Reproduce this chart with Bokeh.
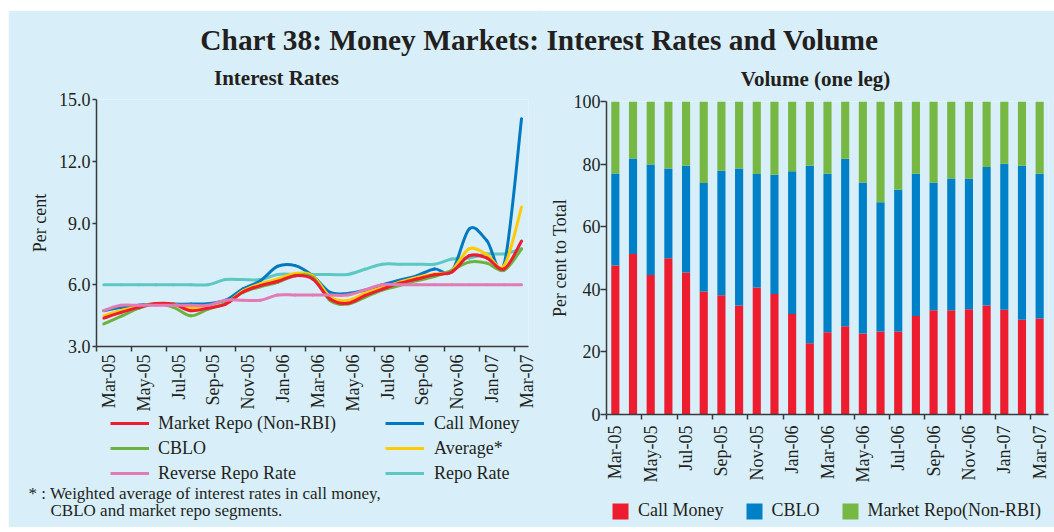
import math
from bokeh.plotting import figure
from bokeh.models import (ColumnDataSource, FixedTicker, Legend, LegendItem, Label,
                          Range1d, PrintfTickFormatter)
from bokeh.embed import file_html
from bokeh.resources import INLINE

# ---------------- data ----------------
months = ["Mar-05", "Apr-05", "May-05", "Jun-05", "Jul-05", "Aug-05", "Sep-05", "Oct-05",
          "Nov-05", "Dec-05", "Jan-06", "Feb-06", "Mar-06", "Apr-06", "May-06", "Jun-06",
          "Jul-06", "Aug-06", "Sep-06", "Oct-06", "Nov-06", "Dec-06", "Jan-07", "Feb-07",
          "Mar-07"]

market_repo = [4.38, 4.66, 4.90, 5.09, 5.06, 4.74, 4.87, 5.06, 5.65, 5.96, 6.17, 6.44, 6.28,
               5.31, 5.10, 5.47, 5.79, 6.07, 6.28, 6.49, 6.62, 7.41, 7.30, 6.77, 8.12]
call_money = [4.74, 4.90, 5.00, 5.08, 5.06, 5.06, 5.08, 5.25, 5.80, 6.20, 6.90, 6.93, 6.44,
              5.63, 5.58, 5.74, 6.00, 6.22, 6.44, 6.77, 6.65, 8.72, 8.15, 7.00, 14.07]
cblo = [4.10, 4.47, 4.85, 5.06, 4.90, 4.49, 4.82, 5.10, 5.63, 5.90, 6.12, 6.44, 6.36,
        5.23, 5.06, 5.39, 5.74, 5.96, 6.20, 6.40, 6.70, 7.10, 7.05, 6.70, 7.74]
average = [4.50, 4.75, 4.95, 5.08, 5.05, 4.87, 4.93, 5.10, 5.70, 6.05, 6.28, 6.55, 6.44,
           5.42, 5.23, 5.58, 5.87, 6.12, 6.36, 6.52, 6.70, 7.75, 7.47, 6.93, 9.77]
reverse_repo = [4.75, 5.0, 5.0, 5.0, 5.0, 5.0, 5.0, 5.25, 5.25, 5.25, 5.5, 5.5, 5.5,
                5.5, 5.5, 5.75, 6.0, 6.0, 6.0, 6.0, 6.0, 6.0, 6.0, 6.0, 6.0]
repo_rate = [6.0, 6.0, 6.0, 6.0, 6.0, 6.0, 6.0, 6.25, 6.25, 6.25, 6.5, 6.5, 6.5,
             6.5, 6.5, 6.75, 7.0, 7.0, 7.0, 7.0, 7.25, 7.3, 7.5, 7.5, 7.75]

vol_call = [47.6, 51.3, 44.6, 49.9, 45.4, 39.3, 38.1, 34.8, 40.6, 38.5, 32.1, 22.8, 26.3,
            28.2, 25.9, 26.5, 26.5, 31.5, 33.3, 33.3, 33.6, 34.8, 33.5, 30.3, 30.7]
vol_cblo = [29.4, 30.5, 35.3, 28.7, 34.1, 34.7, 39.8, 43.8, 36.2, 38.1, 45.6, 56.7, 50.6,
            53.5, 48.2, 41.3, 45.3, 45.4, 40.8, 42.1, 41.7, 44.3, 46.6, 49.2, 46.2]
vol_repo = [23.0, 18.2, 20.1, 21.4, 20.5, 26.0, 22.1, 21.4, 23.2, 23.4, 22.3, 20.5, 23.1,
            18.3, 25.9, 32.2, 28.2, 23.1, 25.9, 24.6, 24.7, 20.9, 19.9, 20.5, 23.1]

line_names = ["Market Repo (Non-RBI)", "CBLO", "Reverse Repo Rate",
              "Call Money", "Average*", "Repo Rate"]
bar_names = ["Call Money", "CBLO", "Market Repo(Non-RBI)"]

# ---------------- style ----------------
BG = "#D8EFF9"
FONT = "Liberation Serif"
TXT = "#231F20"
AX = "#3A3A3A"
LINE_COL = {"Market Repo (Non-RBI)": "#ED1C2E", "CBLO": "#6DB23F",
            "Reverse Repo Rate": "#E27AB4", "Call Money": "#0079C1",
            "Average*": "#FFCB05", "Repo Rate": "#5DC8C2"}
BAR_COL = ["#ED1C2E", "#0080C6", "#76B843"]

xs = list(range(len(months)))


def smooth_source(x, y):
    n = len(x)
    d = dict(x0=[], y0=[], x1=[], y1=[], cx0=[], cy0=[], cx1=[], cy1=[])
    for i in range(n - 1):
        a, b = max(i - 1, 0), min(i + 2, n - 1)
        d["x0"].append(x[i]); d["y0"].append(y[i])
        d["x1"].append(x[i + 1]); d["y1"].append(y[i + 1])
        d["cx0"].append(x[i] + (x[i + 1] - x[a]) / 6.0)
        d["cy0"].append(y[i] + (y[i + 1] - y[a]) / 6.0)
        d["cx1"].append(x[i + 1] - (x[b] - x[i]) / 6.0)
        d["cy1"].append(y[i + 1] - (y[b] - y[i]) / 6.0)
    return ColumnDataSource(d)


def style_fig(p):
    p.background_fill_color = BG
    p.border_fill_color = BG
    p.outline_line_color = None
    p.grid.visible = False
    for ax in p.axis:
        ax.axis_line_color = AX
        ax.axis_line_width = 1.5
        ax.major_tick_line_color = AX
        ax.major_tick_line_width = 1.5
        ax.minor_tick_line_color = AX
        ax.minor_tick_line_width = 1.5
        ax.major_tick_in = 0
        ax.minor_tick_in = 0
        ax.major_label_text_font = FONT
        ax.major_label_text_font_size = "18px"
        ax.major_label_text_color = TXT
        ax.axis_label_text_font = FONT
        ax.axis_label_text_font_size = "18px"
        ax.axis_label_text_font_style = "normal"
        ax.axis_label_text_color = TXT


def mk_legend(items, loc, **kw):
    lg = Legend(items=items, location=loc, orientation=kw.pop("orientation", "vertical"))
    lg.background_fill_alpha = 0
    lg.border_line_color = None
    lg.padding = 0
    lg.margin = 0
    lg.label_text_font = FONT
    lg.label_text_font_size = "18px"
    lg.label_text_color = TXT
    for k, v in kw.items():
        setattr(lg, k, v)
    return lg


# ---------------- left: interest rates ----------------
left = figure(width=532, height=517, output_backend="svg", toolbar_location=None,
              x_range=Range1d(-0.42, 24.4), y_range=Range1d(3, 15))
left.min_border_left = 88
left.min_border_right = 12
left.min_border_top = 89
left.min_border_bottom = 181
left.styles = {"position": "absolute", "left": "8px", "top": "10px"}
style_fig(left)

series = {"Repo Rate": repo_rate, "Call Money": call_money, "Average*": average,
          "CBLO": cblo, "Market Repo (Non-RBI)": market_repo,
          "Reverse Repo Rate": reverse_repo}
draw_order = ["Repo Rate", "Call Money", "Average*", "CBLO", "Market Repo (Non-RBI)",
              "Reverse Repo Rate"]
for name in draw_order:
    src = smooth_source(xs, series[name])
    left.bezier(x0="x0", y0="y0", x1="x1", y1="y1", cx0="cx0", cy0="cy0",
                cx1="cx1", cy1="cy1", source=src, line_color=LINE_COL[name],
                line_width=3, line_cap="round")

ly = left.yaxis[0]
ly.ticker = FixedTicker(ticks=[3, 6, 9, 12, 15])
ly.formatter = PrintfTickFormatter(format="%.1f")
ly.major_tick_out = 4
ly.major_label_standoff = 2
ly.axis_label = "Per cent"
ly.axis_label_standoff = 6

label_pos_l = [i + 0.3 for i in xs[::2]]
lx = left.xaxis[0]
lx.ticker = FixedTicker(ticks=label_pos_l, minor_ticks=[i - 0.42 for i in xs[::2]])
lx.major_label_overrides = {pos: months[i] for pos, i in zip(label_pos_l, xs[::2])}
lx.major_tick_line_color = None
lx.major_tick_out = 0
lx.minor_tick_out = 5
lx.major_label_standoff = 3
lx.major_label_orientation = math.pi / 2

# ---------------- right: volume ----------------
right = figure(width=516, height=517, output_backend="svg", toolbar_location=None,
               x_range=Range1d(-0.5, 24.5), y_range=Range1d(0, 100))
right.min_border_left = 68
right.min_border_right = 6
right.min_border_top = 91
right.min_border_bottom = 113
right.styles = {"position": "absolute", "left": "538px", "top": "10px"}
style_fig(right)

vsrc = ColumnDataSource(dict(x=xs, call=vol_call, cblo=vol_cblo, repo=vol_repo))
right.vbar_stack(["call", "cblo", "repo"], x="x", width=0.46, source=vsrc,
                 color=BAR_COL, line_color=None)

ry = right.yaxis[0]
ry.ticker = FixedTicker(ticks=[0, 20, 40, 60, 80, 100])
ry.major_tick_out = 6
ry.major_label_standoff = 0
ry.axis_label = "Per cent to Total"
ry.axis_label_standoff = 1

rx = right.xaxis[0]
rx.ticker = FixedTicker(ticks=xs[::2], minor_ticks=[i - 0.5 for i in xs[::2]])
rx.major_label_overrides = {i: months[i] for i in xs[::2]}
rx.major_tick_line_color = None
rx.major_tick_out = 0
rx.minor_tick_out = 5
rx.major_label_standoff = 6
rx.major_label_orientation = math.pi / 2

# ---------------- transparent overlay: titles, legends, footnote ----------------
ov = figure(width=1046, height=517, output_backend="svg", toolbar_location=None,
            x_range=Range1d(0, 1), y_range=Range1d(0, 1),
            x_axis_location=None, y_axis_location=None, min_border=0)
ov.background_fill_alpha = 0
ov.border_fill_alpha = 0
ov.outline_line_color = None
ov.grid.visible = False
ov.styles = {"position": "absolute", "left": "8px", "top": "10px", "pointer-events": "none"}


def add_text(x, y, text, size, bold=False, align="left"):
    ov.add_layout(Label(x=x, y=y, x_units="screen", y_units="screen", text=text,
                        text_font=FONT, text_font_size=size,
                        text_font_style="bold" if bold else "normal",
                        text_color=TXT, text_align=align, text_baseline="alphabetic"))


add_text(531, 488, "Chart 38: Money Markets: Interest Rates and Volume", "29.4px", True, "center")
add_text(268, 450, "Interest Rates", "21px", True, "center")
add_text(807, 449, "Volume (one leg)", "21px", True, "center")
add_text(20, 34, "* : Weighted average of interest rates in call money,", "17px")
add_text(42, 17, "CBLO and market repo segments.", "17px")

# legend keys: styled like the chart series, each parked outside the visible range
off = dict(x=[-5.0], y=[-5.0])
key = {}
for name in line_names:
    key[name] = ov.line(x="x", y="y", source=ColumnDataSource(off),
                        line_color=LINE_COL[name], line_width=3)
bar_key = [ov.vbar(x="x", top="y", width=0.01, source=ColumnDataSource(off),
                   fill_color=c, line_color=None) for c in BAR_COL]

leg_a = mk_legend([LegendItem(label=n, renderers=[key[n]]) for n in line_names[:3]],
                  (102, 42), glyph_width=39, glyph_height=24, label_height=24,
                  label_standoff=9, spacing=1)
leg_b = mk_legend([LegendItem(label=n, renderers=[key[n]]) for n in line_names[3:]],
                  (377, 42), glyph_width=39, glyph_height=24, label_height=24,
                  label_standoff=10, spacing=1)
leg_r = mk_legend([LegendItem(label=n, renderers=[r]) for n, r in zip(bar_names, bar_key)],
                  (602, 6), orientation="horizontal", glyph_width=20, glyph_height=20,
                  label_height=20, label_standoff=8, spacing=20)
for lg in (leg_a, leg_b, leg_r):
    ov.add_layout(lg)

open("out.html", "w").write(file_html([left, right, ov], INLINE))
